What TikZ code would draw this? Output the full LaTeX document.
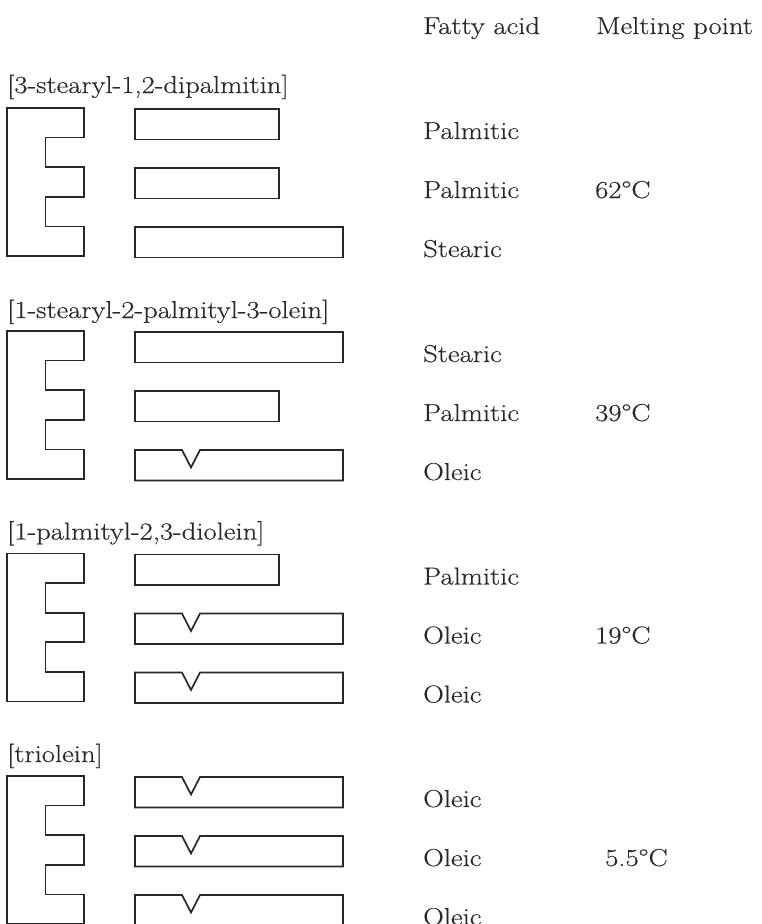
\documentclass[tikz,border=0pt]{standalone}
\usepackage{fontspec}
\setmainfont{Latin Modern Roman}[FakeStretch=1.17,FakeBold=0.4]
\definecolor{ink}{RGB}{40,40,40}
\newcommand\ChainShort[1]{\draw[chain] (135,#1) rectangle (279,{#1+30.5});}
\newcommand\ChainLong[1]{\draw[chain] (135,#1) rectangle (343,{#1+30.5});}
\newcommand\ChainOleic[1]{\draw[chain] (135,#1) -- (182,#1) -- (191,{#1+17.5}) -- (200,#1) -- (343,#1) -- (343,{#1+30.5}) -- (135,{#1+30.5}) -- cycle;}
\newcommand\Glycerol{\draw[chain] (7,0) -- (84,0) -- (84,29.6) -- (45.5,29.6) -- (45.5,59.2) -- (84,59.2) -- (84,88.8) -- (45.5,88.8) -- (45.5,118.4) -- (84,118.4) -- (84,148) -- (7,148) -- cycle;}
\begin{document}
\begin{tikzpicture}[x=1pt,y=-1pt,
  chain/.style={draw=ink, line width=1.7pt, line join=miter},
  lab/.style={anchor=base west, inner sep=0pt, text=ink, font=\fontsize{24.5}{30}\selectfont}]
\useasboundingbox (0,0) rectangle (761,924);
\node[lab] (hfa) at (423,34) {Fatty acid};
\node[lab] (hmp) at (596,34) {Melting point};
% block 1
\begin{scope}[shift={(0,108)}]
\node[lab] (n1) at (7,-15) {[3-stearyl-1,2-dipalmitin]};
\Glycerol
\ChainShort{1}
\ChainShort{60}
\ChainLong{119}
\node[lab] (a11) at (423,31) {Palmitic};
\node[lab] (a12) at (423,90) {Palmitic};
\node[lab] (a13) at (423,149) {Stearic};
\node[lab] (m1) at (595,90) {62°C};
\end{scope}
% block 2
\begin{scope}[shift={(0,331)}]
\node[lab] (n2) at (7,-13) {[1-stearyl-2-palmityl-3-olein]};
\Glycerol
\ChainLong{1}
\ChainShort{60}
\ChainOleic{119}
\node[lab] (a21) at (423,31) {Stearic};
\node[lab] (a22) at (423,90) {Palmitic};
\node[lab] (a23) at (423,149) {Oleic};
\node[lab] (m2) at (595,90) {39°C};
\end{scope}
% block 3
\begin{scope}[shift={(0,553.5)}]
\node[lab] (n3) at (7,-14) {[1-palmityl-2,3-diolein]};
\Glycerol
\ChainShort{1}
\ChainOleic{60}
\ChainOleic{119}
\node[lab] (a31) at (423,31) {Palmitic};
\node[lab] (a32) at (423,90) {Oleic};
\node[lab] (a33) at (423,149) {Oleic};
\node[lab] (m3) at (595,90) {19°C};
\end{scope}
% block 4
\begin{scope}[shift={(0,776)}]
\node[lab] (n4) at (7,-14) {[triolein]};
\Glycerol
\ChainOleic{1}
\ChainOleic{60}
\ChainOleic{119}
\node[lab] (a41) at (423,31) {Oleic};
\node[lab] (a42) at (423,90) {Oleic};
\node[lab] (a43) at (423,149) {Oleic};
\node[lab] (m4) at (605,90) {5.5°C};
\end{scope}
\end{tikzpicture}
\end{document}
